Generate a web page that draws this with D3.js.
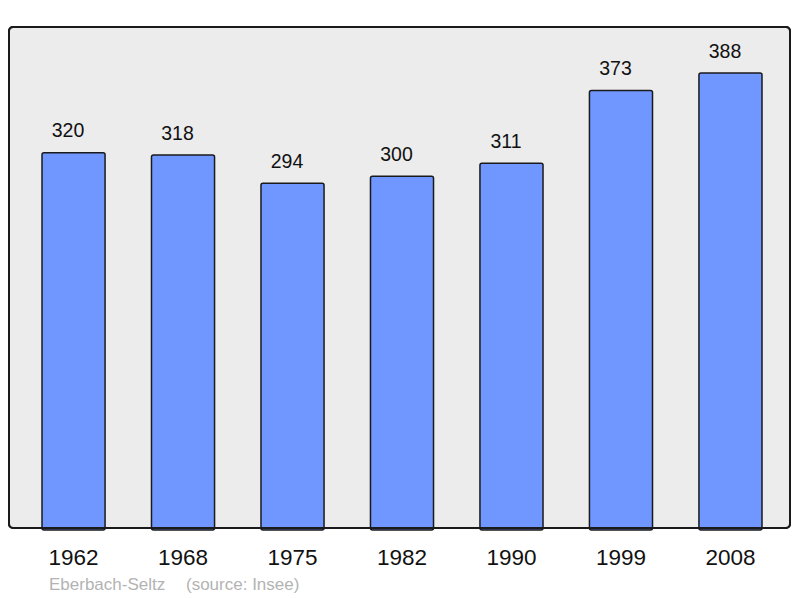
<!DOCTYPE html>
<html>
<head>
<meta charset="utf-8">
<script src="https://cdn.jsdelivr.net/npm/d3@7"></script>
<style>
  body { margin: 0; background: #fff; }
  text { font-family: "Liberation Sans", Arial, sans-serif; }
</style>
</head>
<body>
<svg id="chart" width="800" height="598"></svg>
<script>
const years = ['1962', '1968', '1975', '1982', '1990', '1999', '2008']
const population = [320, 318, 294, 300, 311, 373, 388]
const place = 'Eberbach-Seltz'
const source = '(source: Insee)'

const SVG = d3.select('#chart')
const Frame = { left: 9, top: 27, right: 790, bottom: 528 }

// plot background
SVG.append('rect')
    .attr('x', Frame.left)
    .attr('y', Frame.top)
    .attr('width', Frame.right - Frame.left)
    .attr('height', Frame.bottom - Frame.top)
    .attr('rx', 4)
    .attr('ry', 4)
    .style('fill', '#ececec')
    .style('stroke', '#1a1a1a')
    .style('stroke-width', 2)

const xscale = d3.scaleBand()
    .domain(years)
    .range([42, 762])
    .paddingInner(0.424)
    .paddingOuter(0)

const yscale = d3.scaleLinear()
    .domain([0, 388])
    .range([Frame.bottom, 73])

const bars = SVG.append('g')
years.forEach((yr, i) => {
    let v = population[i]
    bars.append('rect')
        .attr('x', xscale(yr))
        .attr('y', yscale(v))
        .attr('width', xscale.bandwidth())
        .attr('height', Frame.bottom - yscale(v) + 2)
        .attr('rx', 2)
        .attr('ry', 2)
        .style('fill', '#7096ff')
        .style('stroke', '#1a1a1a')
        .style('stroke-width', 1.5)

    // value labels sit a little left of the bar centre in the original
    bars.append('text')
        .text(v)
        .attr('x', xscale(yr) + xscale.bandwidth() / 2 - 5.5)
        .attr('y', yscale(v) - 15.5)
        .style('text-anchor', 'middle')
        .style('font-size', '19.5px')
        .style('fill', '#111')
})

// redraw frame outline on top so bar bottoms sit under it
SVG.append('rect')
    .attr('x', Frame.left)
    .attr('y', Frame.top)
    .attr('width', Frame.right - Frame.left)
    .attr('height', Frame.bottom - Frame.top)
    .attr('rx', 4)
    .attr('ry', 4)
    .style('fill', 'none')
    .style('stroke', '#1a1a1a')
    .style('stroke-width', 2)

const bottom = d3.axisBottom(xscale).tickSize(0).tickPadding(0)
const ax = SVG.append('g')
    .attr('transform', `translate(0, ${Frame.bottom})`)
    .call(bottom)
ax.select('.domain').remove()
ax.selectAll('text')
    .attr('y', 37)
    .attr('dy', 0)
    .style('font-size', '22.5px')
    .style('fill', '#111')
    .style('font-family', '"Liberation Sans", Arial, sans-serif')

SVG.append('text')
    .attr('x', 49)
    .attr('y', 590)
    .style('font-size', '17px')
    .style('fill', '#b3b3b3')
    .text(place)

SVG.append('text')
    .attr('x', 186)
    .attr('y', 590)
    .style('font-size', '17px')
    .style('fill', '#b3b3b3')
    .text(source)
</script>
</body>
</html>
